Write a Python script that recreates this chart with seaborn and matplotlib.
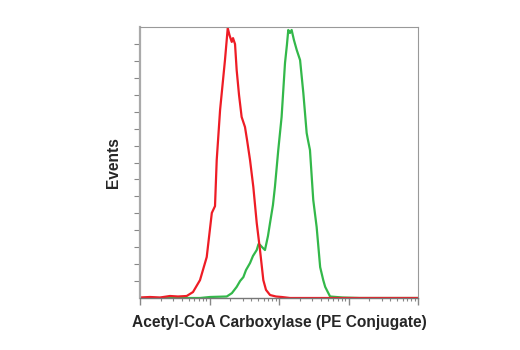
import matplotlib
matplotlib.use("Agg")
import matplotlib.pyplot as plt
import seaborn as sns
import numpy as np
import pandas as pd
from matplotlib.ticker import LogLocator, NullFormatter, FixedLocator

# Fluorescence intensity (log scale) and normalized event counts (% of max)
red_x = [1.0, 1.39, 1.94, 2.70, 3.52, 4.70, 5.79, 7.30, 9.12, 10.8, 12.0, 12.7, 14.2,
         16.7, 18.3, 19.4, 20.9, 21.8, 23.3, 24.6, 26.6, 29.0, 32.4, 34.7, 38.3, 42.7,
         47.8, 53.3, 59.5, 65.0, 74.3, 90.5, 109, 144, 1000, 10000]
red_y = [0.18, 0.37, 0.18, 0.74, 0.55, 0.74, 2.2, 6.6, 15.1, 31.4, 33.9, 50.9, 69.4,
         87.8, 99.6, 97.0, 94.5, 95.9, 93.7, 84.1, 74.9, 66.8, 63.1, 58.3, 50.9, 41.0,
         27.7, 17.7, 6.6, 3.0, 1.1, 0.55, 0.37, 0.0, 0.0, 0.0]

green_x = [1.0, 7.30, 10.15, 17.7, 21.0, 24.6, 27.6, 30.7, 33.5, 38.3, 42.2, 47.8, 50.7,
           53.3, 56.9, 62.8, 69.4, 74.3, 81.8, 87.4, 97.6, 109, 122, 130, 136, 144, 152,
           164, 180, 201, 224, 250, 261, 279, 311, 348, 391, 433, 462, 543, 826, 1460, 10000]
green_y = [0.0, 0.0, 0.37, 0.55, 1.8, 4.1, 6.3, 7.7, 10.3, 12.9, 15.5, 17.7, 19.9,
           19.6, 18.8, 17.7, 22.9, 27.7, 34.3, 41.0, 54.6, 66.8, 86.7, 93.4, 98.9, 97.8, 98.9,
           95.2, 91.5, 87.8, 75.6, 60.9, 58.3, 54.6, 36.2, 26.2, 11.4, 6.6, 4.1, 0.55, 0.18, 0.0, 0.0]

sns.set_style("white")
plt.rcParams['font.family'] = ['Liberation Sans', 'DejaVu Sans']

fig = plt.figure(figsize=(5.2, 3.5), dpi=100)
ax = fig.add_axes([140/520, 1-298/350, (418-140)/520, (298-27)/350])

df_red = pd.DataFrame({"x": red_x, "y": red_y})
df_green = pd.DataFrame({"x": green_x, "y": green_y})
sns.lineplot(data=df_green, x="x", y="y", ax=ax, color="#33b84a", linewidth=1.6, sort=False)
sns.lineplot(data=df_red, x="x", y="y", ax=ax, color="#ee1c25", linewidth=1.6, sort=False)

ax.set_xscale("log")
ax.set_xlim(1, 10000)
ax.set_ylim(0, 100)

ax.xaxis.set_major_locator(LogLocator(base=10, numticks=10))
ax.xaxis.set_minor_locator(LogLocator(base=10, subs=np.arange(2, 10), numticks=10))
ax.xaxis.set_major_formatter(NullFormatter())
ax.xaxis.set_minor_formatter(NullFormatter())
ax.yaxis.set_major_locator(FixedLocator([i * 100 / 16 for i in range(1, 16)]))
ax.set_yticklabels([])

ax.tick_params(axis="x", which="major", direction="out", length=5, width=1, color="#888888", bottom=True)
ax.tick_params(axis="x", which="minor", direction="out", length=2.5, width=0.8, color="#888888", bottom=True)
ax.tick_params(axis="y", which="major", direction="out", length=4, width=0.8, color="#888888", left=True)

for s in ["top", "right"]:
    ax.spines[s].set_color("#999999")
    ax.spines[s].set_linewidth(0.8)
ax.spines["left"].set_color("#aaaaaa")
ax.spines["left"].set_linewidth(1.6)
ax.spines["bottom"].set_color("#777777")
ax.spines["bottom"].set_linewidth(1.0)

ax.set_xlabel("Acetyl-CoA Carboxylase (PE Conjugate)", fontsize=11.2, fontweight="bold", labelpad=4)
ax.set_ylabel("Events", fontsize=11.2, fontweight="bold", labelpad=6)

fig.savefig("out.png", dpi=100)
